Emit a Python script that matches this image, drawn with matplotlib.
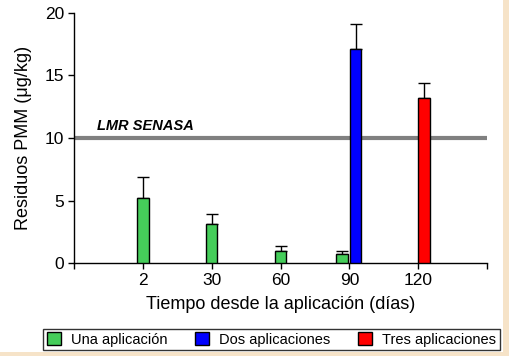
import matplotlib
matplotlib.use("Agg")
import matplotlib.pyplot as plt
from matplotlib.patches import Patch, Rectangle

categories = ["2", "30", "60", "90", "120"]
una_vals = [5.19, 3.11, 0.96, 0.74]
una_err = [1.72, 0.80, 0.40, 0.22]
dos_vals = [17.08]
dos_err = [2.0]
tres_vals = [13.17]
tres_err = [1.2]
lmr_value = 10
lmr_label = "LMR SENASA"
series_names = ["Una aplicación", "Dos aplicaciones", "Tres aplicaciones"]

plt.rcParams['font.family'] = ['Liberation Sans', 'DejaVu Sans']

fig = plt.figure(figsize=(5.09, 3.56), dpi=100)
fig.patch.set_facecolor("white")
ax = fig.add_axes([0.1454, 0.2604, 0.8114, 0.7039])

green = "#45CD5A"
w = 0.165
pos = list(range(1, len(categories) + 1))
una_x = [pos[0], pos[1], pos[2], pos[3] - 0.105]
dos_x = [pos[3] + 0.09]
tres_x = [pos[4] + 0.085]

ek = dict(elinewidth=1.0, capsize=4.0, capthick=1.0, ecolor="black")
ax.bar(una_x, una_vals, width=w, color=green, edgecolor="black", linewidth=1.0, zorder=3)
ax.errorbar(una_x, una_vals, yerr=[[0]*len(una_err), una_err], fmt="none", zorder=2, **ek)
ax.bar(dos_x, dos_vals, width=w, color="#0000FF", edgecolor="black", linewidth=1.0, zorder=3)
ax.errorbar(dos_x, dos_vals, yerr=[[0], dos_err], fmt="none", zorder=2, **ek)
ax.bar(tres_x, tres_vals, width=w, color="#FF0000", edgecolor="black", linewidth=1.0, zorder=3)
ax.errorbar(tres_x, tres_vals, yerr=[[0], tres_err], fmt="none", zorder=2, **ek)

ax.axhline(lmr_value, color="#808080", linewidth=3.0, zorder=1)
ax.text(0.33, lmr_value + 0.4, lmr_label, fontsize=10.5, fontweight="bold",
        fontstyle="italic", ha="left", va="bottom")

ax.set_xlim(0, len(categories) + 1)
ax.set_ylim(0, 20)
ax.set_xticks([0] + pos + [len(categories) + 1])
ax.set_xticklabels([""] + categories + [""], fontsize=12.5)
ax.set_yticks([0, 5, 10, 15, 20])
ax.set_yticklabels(["0", "5", "10", "15", "20"], fontsize=12.5)
ax.tick_params(axis="both", direction="out", length=4, width=1, color="black", pad=3)
for s in ["top", "right"]:
    ax.spines[s].set_visible(False)
for s in ["left", "bottom"]:
    ax.spines[s].set_linewidth(1.0)
    ax.spines[s].set_color("black")

ax.set_ylabel("Residuos PMM (μg/kg)", fontsize=13)
ax.yaxis.set_label_coords(-0.102, 0.5)
ax.set_xlabel("Tiempo desde la aplicación (días)", fontsize=13, labelpad=6)

handles = [Patch(facecolor=green, edgecolor="black", linewidth=1.0),
           Patch(facecolor="#0000FF", edgecolor="black", linewidth=1.0),
           Patch(facecolor="#FF0000", edgecolor="black", linewidth=1.0)]
leg = fig.legend(handles, series_names, ncol=3, loc="center",
                 bbox_to_anchor=(0.5334, 0.0463), fontsize=10.5, frameon=True,
                 fancybox=False, handlelength=0.95, handleheight=0.95,
                 handletextpad=0.68, columnspacing=1.93, borderpad=0.25,
                 borderaxespad=0)
leg.get_frame().set_edgecolor("black")
leg.get_frame().set_linewidth(1.0)

# beige border strips on right and bottom edges
fig.add_artist(Rectangle((503/509, 0), 6/509, 1, transform=fig.transFigure,
                         facecolor="#F6E3C8", edgecolor="none", zorder=-1))
fig.add_artist(Rectangle((0, 0), 1, 4/356, transform=fig.transFigure,
                         facecolor="#F6E3C8", edgecolor="none", zorder=-1))

fig.savefig("out.png", dpi=100, facecolor=fig.get_facecolor())
